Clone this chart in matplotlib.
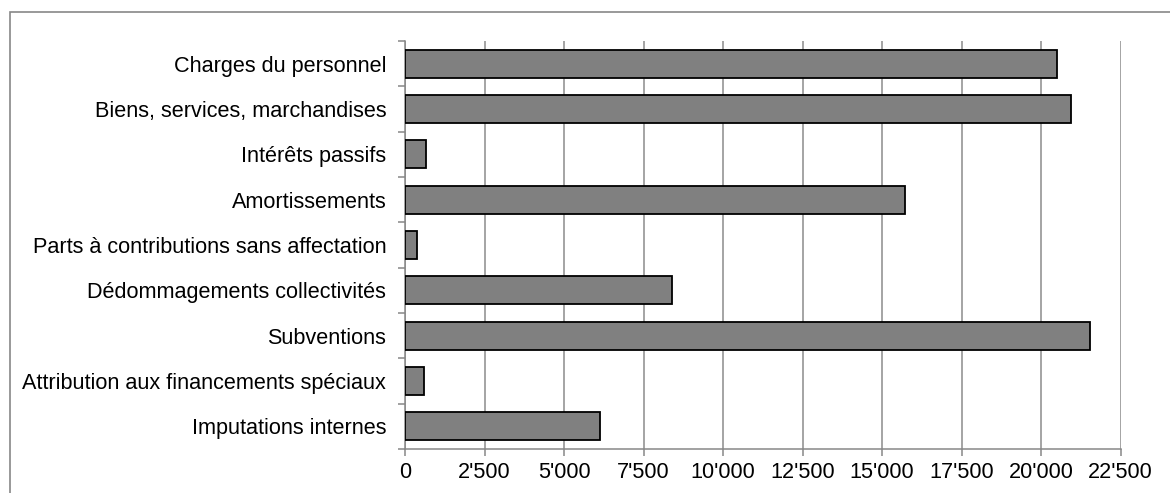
import matplotlib.pyplot as plt
from matplotlib.patches import Rectangle
from matplotlib.ticker import FuncFormatter, MultipleLocator

categories = [
    "Charges du personnel",
    "Biens, services, marchandises",
    "Intérêts passifs",
    "Amortissements",
    "Parts à contributions sans affectation",
    "Dédommagements collectivités",
    "Subventions",
    "Attribution aux financements spéciaux",
    "Imputations internes",
]
values = [20500, 20940, 660, 15730, 370, 8400, 21540, 590, 6120]

plt.rcParams['font.family'] = ['Liberation Sans', 'DejaVu Sans']

fig = plt.figure(figsize=(11.7, 4.93), dpi=100)
ax = fig.add_axes([405 / 1170, 1 - 449 / 493, 715.7 / 1170, 408 / 493])

# outer chart frame
fig.patches.append(Rectangle((10 / 1170, -0.05), 1.2, 1 - 12 / 493 + 0.05,
                             transform=fig.transFigure, fill=False,
                             edgecolor='#878787', linewidth=1.2))

pos = list(range(len(categories)))
ax.barh(pos, values, height=0.62, color='#808080', edgecolor='black',
        linewidth=1.3, zorder=3)

ax.set_ylim(len(categories) - 0.5, -0.5)
ax.set_xlim(0, 22500)
ax.xaxis.set_major_locator(MultipleLocator(2500))
ax.xaxis.set_major_formatter(FuncFormatter(lambda v, p: f"{int(v):,}".replace(",", "'")))
ax.grid(axis='x', color='#8c8c8c', linewidth=1.1, zorder=0)

ax.set_yticks(pos)
ax.set_yticklabels(categories)
ax.set_yticks([p - 0.5 for p in pos] + [len(pos) - 0.5], minor=True)
ax.tick_params(axis='y', which='major', length=0, pad=13.5, labelsize=15.6)
ax.tick_params(axis='y', which='minor', length=5, color='#878787', width=1.1)
ax.tick_params(axis='x', length=5, color='#878787', width=1.1, labelsize=15.6, pad=4)

for s in ['top', 'right']:
    ax.spines[s].set_visible(False)
for s in ['left', 'bottom']:
    ax.spines[s].set_color('#878787')
    ax.spines[s].set_linewidth(1.1)

fig.savefig('out.png', dpi=100)
